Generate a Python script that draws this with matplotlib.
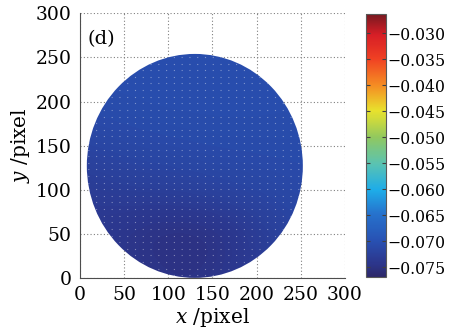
import numpy as np
import matplotlib
matplotlib.use('Agg')
import matplotlib.pyplot as plt
from matplotlib.colors import LinearSegmentedColormap
from matplotlib.patches import Ellipse

plt.rcParams['font.family'] = 'DejaVu Serif'
plt.rcParams['mathtext.fontset'] = 'dejavuserif'

# ==== data (coarse samples of the phase map) ====
x_samples = [0, 50, 100, 150, 200, 250]
y_samples = [0, 50, 100, 150, 200, 250]
phase = np.array([
    [-0.0733, -0.0740, -0.0746, -0.0746, -0.0730, -0.0721],   # y = 0
    [-0.0737, -0.0746, -0.0755, -0.0753, -0.0736, -0.0718],   # y = 50
    [-0.0737, -0.0728, -0.0726, -0.0720, -0.0715, -0.0711],   # y = 100
    [-0.0718, -0.0713, -0.0710, -0.0708, -0.0708, -0.0708],   # y = 150
    [-0.0707, -0.0705, -0.0704, -0.0704, -0.0704, -0.0705],   # y = 200
    [-0.0704, -0.0704, -0.0704, -0.0704, -0.0704, -0.0704],   # y = 250
])
aperture_center = (130, 127)
aperture_size = (245, 254)
cbar_ticks = [-0.075, -0.070, -0.065, -0.060, -0.055, -0.050,
              -0.045, -0.040, -0.035, -0.030]
vmin, vmax = -0.0769, -0.0262

# softened jet as seen on the colour bar
cmap = LinearSegmentedColormap.from_list('softjet', [
    (0.00, (45/255, 40/255, 105/255)),
    (0.05, (44/255, 54/255, 140/255)),
    (0.14, (40/255, 82/255, 180/255)),
    (0.24, (38/255, 115/255, 205/255)),
    (0.33, (30/255, 172/255, 232/255)),
    (0.43, (90/255, 195/255, 178/255)),
    (0.53, (145/255, 200/255, 95/255)),
    (0.63, (232/255, 226/255, 45/255)),
    (0.73, (245/255, 140/255, 35/255)),
    (0.83, (240/255, 65/255, 35/255)),
    (0.92, (215/255, 30/255, 38/255)),
    (1.00, (120/255, 25/255, 32/255)),
])

fig = plt.figure(figsize=(4.54, 3.34), dpi=100)
ax = fig.add_axes([0.162, 0.168, 0.612, 0.792])
cax = fig.add_axes([0.806, 0.171, 0.044, 0.788])

ax.set_axisbelow(True)
ax.grid(True, color='0.5', linestyle=(0, (1, 2)), linewidth=0.8)

ext = [x_samples[0] - 25, x_samples[-1] + 25, y_samples[0] - 25, y_samples[-1] + 25]
im = ax.imshow(phase, origin='lower', extent=ext, cmap=cmap, vmin=vmin, vmax=vmax,
               interpolation='bicubic', zorder=2)
aperture = Ellipse(aperture_center, *aperture_size, transform=ax.transData,
                   facecolor='none', edgecolor='none')
ax.add_patch(aperture)
im.set_clip_path(aperture)

# faint mesh dots of the original rendering
rows = np.arange(3, 256, 7.5)
lines = ax.hlines(rows, 0, 300, colors='white', linewidth=0.8, alpha=0.4,
                  linestyles=[(0, (1, 6))], zorder=3)
lines.set_clip_path(aperture)

ax.set_xlim(0, 300)
ax.set_ylim(0, 300)
ax.set_xticks(range(0, 301, 50))
ax.set_yticks(range(0, 301, 50))
ax.spines['top'].set_visible(False)
ax.spines['right'].set_visible(False)
ax.spines['left'].set_color('0.3')
ax.spines['bottom'].set_color('0.3')
ax.tick_params(length=0, labelsize=13.5, pad=6)
ax.set_xlabel(r'$x$ /pixel', fontsize=14.5, labelpad=1)
ax.set_ylabel(r'$y$ /pixel', fontsize=14.5, labelpad=3)
ax.text(8, 271, '(d)', fontsize=14, va='center', ha='left')

cb = fig.colorbar(im, cax=cax, ticks=cbar_ticks)
cb.outline.set_edgecolor('0.35')
cb.ax.tick_params(direction='in', left=True, right=True, length=3, labelsize=11.3,
                  pad=1, color='0.25')
cb.ax.set_yticklabels(['\u2212%.3f' % abs(t) for t in cbar_ticks])

fig.savefig('out.png', dpi=100)
